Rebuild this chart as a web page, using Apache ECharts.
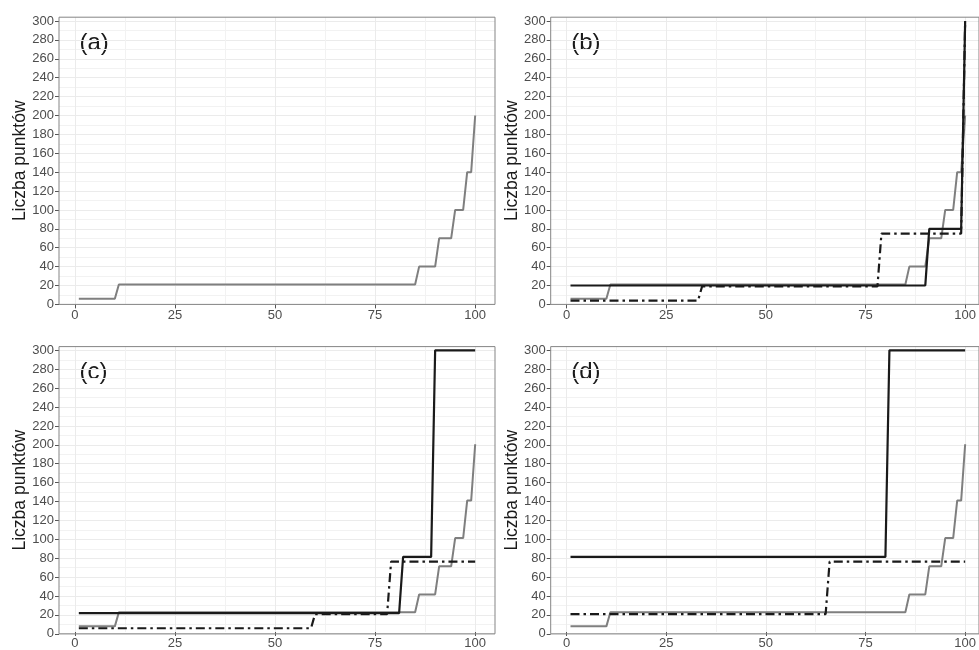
<!DOCTYPE html>
<html>
<head>
<meta charset="utf-8">
<script src="https://cdn.jsdelivr.net/npm/echarts@6/dist/echarts.min.js"></script>
<style>
html,body{margin:0;padding:0;background:#fff;}
#chart{width:979px;height:650px;}
</style>
</head>
<body>
<div id="chart"></div>
<script>
// ---- data ----
const panelLabels = ['(a)', '(b)', '(c)', '(d)'];
const yTitle = 'Liczba punktów';

// gray reference curve (same in every panel)
const grayX = [1, 10, 11, 85, 86, 90, 91, 94, 95, 97, 98, 99, 100];
const grayY = [6, 6, 21, 21, 40, 40, 70, 70, 100, 100, 140, 140, 200];

// panel (b)
const bSolidX = [1, 90, 91, 99, 100];
const bSolidY = [20, 20, 80, 80, 300];
const bDashX = [1, 33, 34, 78, 79, 99, 100];
const bDashY = [4, 4, 19, 19, 75, 75, 300];

// panel (c)
const cSolidX = [1, 81, 82, 89, 90, 100];
const cSolidY = [20, 20, 80, 80, 300, 300];
const cDashX = [1, 59, 60, 78, 79, 100];
const cDashY = [4, 4, 19, 19, 75, 75];

// panel (d)
const dSolidX = [1, 80, 81, 100];
const dSolidY = [80, 80, 300, 300];
const dDashX = [1, 65, 66, 100];
const dDashY = [19, 19, 75, 75];

const xTicks = [0, 25, 50, 75, 100];
const yTickStep = 20;

function pairs(xs, ys) { return xs.map((x, i) => [x, ys[i]]); }

// ---- layout ----
const FONT = "'Liberation Sans', Arial, sans-serif";
const W = 436, H = 287.2;
const panelPos = [
  { left: 59, top: 17.2 },
  { left: 550.7, top: 17.2 },
  { left: 59, top: 346.6 },
  { left: 550.7, top: 346.6 }
];
const xLo = -3.95, xHi = 104.95;
const yHi = 304;

const panelSeries = [
  [],
  [{ d: pairs(bSolidX, bSolidY), t: 'solid' }, { d: pairs(bDashX, bDashY), t: 'dash' }],
  [{ d: pairs(cSolidX, cSolidY), t: 'solid' }, { d: pairs(cDashX, cDashY), t: 'dash' }],
  [{ d: pairs(dSolidX, dSolidY), t: 'solid' }, { d: pairs(dDashX, dDashY), t: 'dash' }]
];

const grid = [], xAxis = [], yAxis = [], series = [], graphic = [];

panelPos.forEach((p, i) => {
  const pxX = W / (xHi - xLo);
  const pxY = H / yHi;
  const base = grid.length;
  // frame grid
  grid.push({ left: p.left, top: p.top, width: W, height: H, show: true,
    borderColor: '#858585', borderWidth: 1, backgroundColor: 'transparent', z: 3 });
  xAxis.push({ gridIndex: base, type: 'value', min: 0, max: 1, show: false });
  yAxis.push({ gridIndex: base, type: 'value', min: 0, max: 1, show: false });
  // horizontal lines + y labels
  grid.push({ left: p.left, top: p.top + (yHi - 300) * pxY, width: W, height: 300 * pxY, show: false });
  xAxis.push({ gridIndex: base + 1, type: 'value', min: 0, max: 1, show: false });
  yAxis.push({ gridIndex: base + 1, type: 'value', min: 0, max: 300, interval: yTickStep,
    axisLine: { show: false },
    axisTick: { show: true, length: 4, lineStyle: { color: '#555', width: 1 } },
    axisLabel: { color: '#4d4d4d', fontSize: 13, fontFamily: FONT, margin: 5 },
    splitLine: { show: true, lineStyle: { color: '#ebebeb', width: 1 } },
    minorTick: { show: false, splitNumber: 2 },
    minorSplitLine: { show: true, lineStyle: { color: '#f2f2f2', width: 1 } }
  });
  // vertical lines + x labels + data
  grid.push({ left: p.left + (0 - xLo) * pxX, top: p.top, width: 100 * pxX, height: H, show: false });
  xAxis.push({ gridIndex: base + 2, type: 'value', min: xTicks[0], max: xTicks[xTicks.length - 1], interval: 25,
    axisLine: { show: false },
    axisTick: { show: true, length: 4, lineStyle: { color: '#555', width: 1 } },
    axisLabel: { color: '#4d4d4d', fontSize: 13, fontFamily: FONT, margin: 5 },
    splitLine: { show: true, lineStyle: { color: '#ebebeb', width: 1 } },
    minorTick: { show: false, splitNumber: 2 },
    minorSplitLine: { show: true, lineStyle: { color: '#f2f2f2', width: 1 } }
  });
  yAxis.push({ gridIndex: base + 2, type: 'value', min: 0, max: yHi, show: false });

  series.push({ type: 'line', xAxisIndex: base + 2, yAxisIndex: base + 2, data: pairs(grayX, grayY),
    showSymbol: false, symbol: 'none', lineStyle: { color: '#7f7f7f', width: 2 }, z: 2, silent: true, animation: false });
  panelSeries[i].forEach(s => {
    series.push({ type: 'line', xAxisIndex: base + 2, yAxisIndex: base + 2, data: s.d,
      showSymbol: false, symbol: 'none',
      lineStyle: s.t === 'solid' ? { color: '#1a1a1a', width: 2.2 }
                                 : { color: '#1a1a1a', width: 2.2, type: [9, 4, 2.5, 4], cap: 'butt' },
      z: s.t === 'solid' ? 4 : 3, silent: true, animation: false });
  });

  graphic.push({ type: 'text', x: p.left - 39, y: p.top + H / 2, rotation: Math.PI / 2,
    style: { text: yTitle, font: '17.5px ' + FONT, fill: '#1a1a1a', stroke: 'none', lineWidth: 0,
      textAlign: 'center', textVerticalAlign: 'middle' } });
  graphic.push({ type: 'text', x: p.left + 20.5, y: p.top + 25.8,
    style: { text: panelLabels[i], font: '24px ' + FONT, fill: '#1a1a1a', stroke: 'none', lineWidth: 0,
      textAlign: 'left', textVerticalAlign: 'middle' } });
});

const chart = echarts.init(document.getElementById('chart'), null, { renderer: 'canvas' });
chart.setOption({ animation: false, grid, xAxis, yAxis, series, graphic });
</script>
</body>
</html>
